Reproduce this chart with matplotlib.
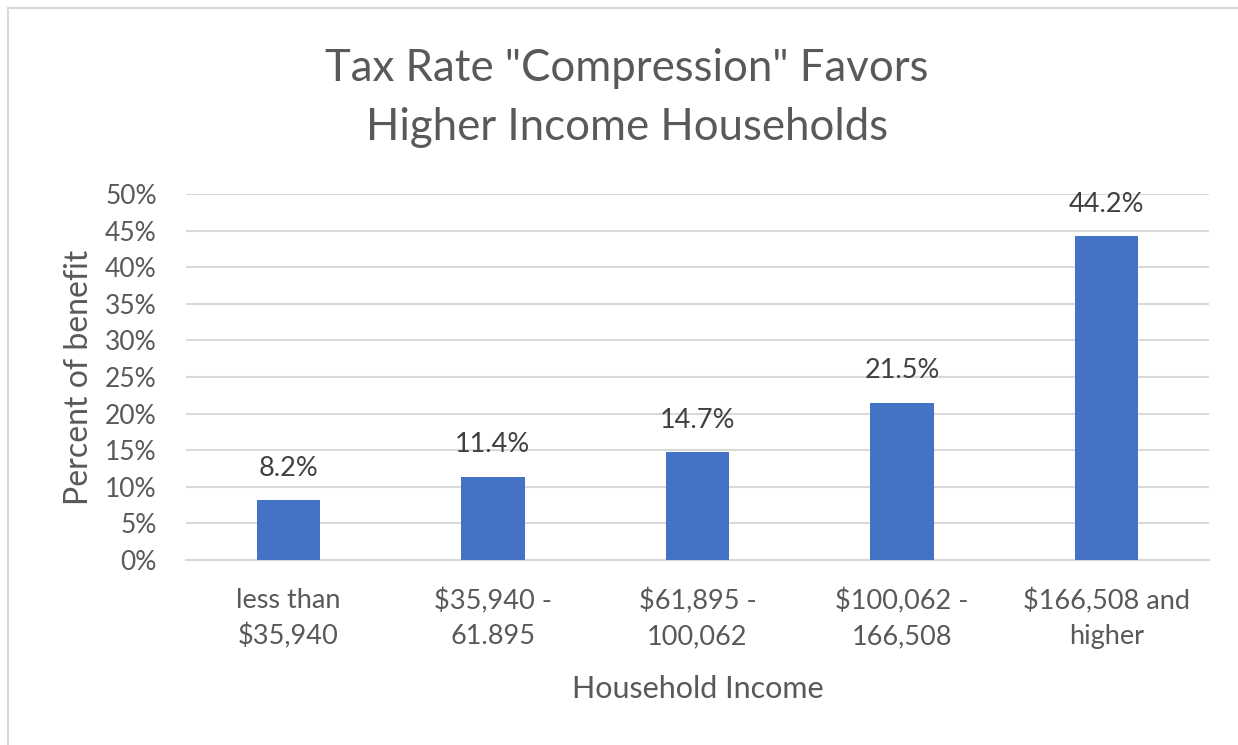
import matplotlib
matplotlib.use("Agg")
import matplotlib.pyplot as plt
from matplotlib.lines import Line2D

categories = ["less than\n$35,940", "$35,940 -\n61.895", "$61,895 -\n100,062",
              "$100,062 -\n166,508", "$166,508 and\nhigher"]
values = [8.2, 11.4, 14.7, 21.5, 44.2]
yticks = [0, 5, 10, 15, 20, 25, 30, 35, 40, 45, 50]
ytick_labels = [f"{t}%" for t in yticks]

plt.rcParams['font.family'] = ['Lato', 'DejaVu Sans']
W, H = 1238, 745
fig = plt.figure(figsize=(W/100, H/100), dpi=100)
ax = fig.add_axes([186/W, 1-560/H, (1209-186)/W, (560-194)/H])

text_col = "#595959"
grid_col = "#d9d9d9"
x = list(range(len(categories)))
ax.bar(x, values, width=0.31, color="#4472C4", zorder=3)
for xi, v in zip(x, values):
    ax.annotate(f"{v}%", (xi, v), xytext=(0, 23), textcoords="offset points",
                ha="center", va="center", fontsize=19.5, color="#404040")

ax.set_xlim(-0.5, len(categories)-0.5)
ax.set_ylim(0, 50)
ax.set_yticks(yticks)
ax.set_yticklabels(ytick_labels, fontsize=19, color=text_col)
ax.set_xticks(x)
ax.set_xticklabels(categories, fontsize=19.5, color=text_col, linespacing=1.5)
ax.tick_params(axis='both', length=0)
ax.tick_params(axis='y', pad=21)
ax.tick_params(axis='x', pad=20)
ax.grid(axis='y', color=grid_col, linewidth=1.5, zorder=0)
for s in ['top', 'right', 'left']:
    ax.spines[s].set_visible(False)
ax.spines['bottom'].set_color(grid_col)
ax.spines['bottom'].set_linewidth(1.5)

ax.set_ylabel("Percent of benefit", fontsize=23, color=text_col, labelpad=8)
ax.set_xlabel("Household Income", fontsize=22, color=text_col, labelpad=18)

fig.text(627/W, 1-98/H, 'Tax Rate "Compression" Favors\nHigher Income Households',
         ha="center", va="center", fontsize=31.5, color=text_col, linespacing=1.52)

fig.add_artist(Line2D([8/W, 1.0], [1-8/H, 1-8/H], transform=fig.transFigure,
                      color=grid_col, linewidth=1.5))
fig.add_artist(Line2D([8/W, 8/W], [0, 1-8/H], transform=fig.transFigure,
                      color=grid_col, linewidth=1.5))

fig.savefig("out.png", dpi=100, facecolor="white")
